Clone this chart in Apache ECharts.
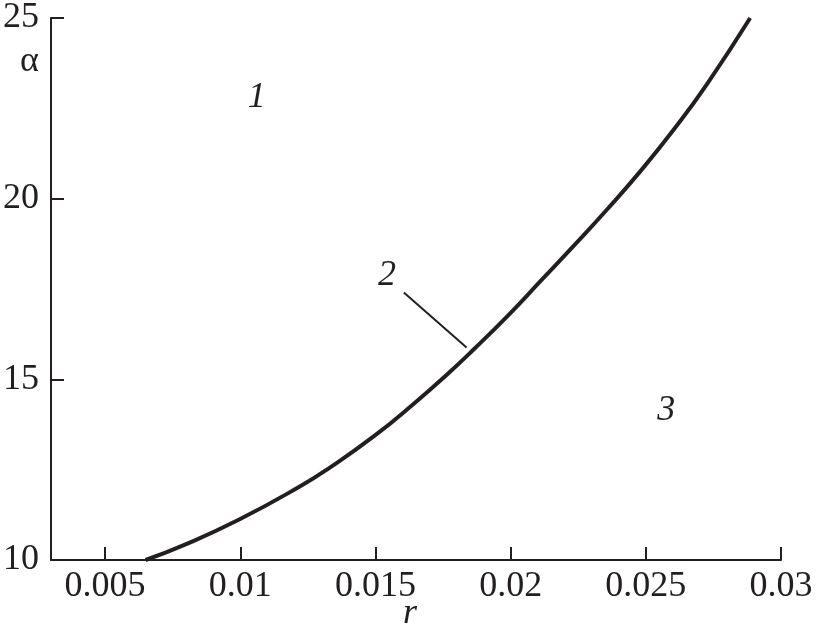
<!DOCTYPE html>
<html>
<head>
<meta charset="utf-8">
<script src="https://cdn.jsdelivr.net/npm/echarts@6/dist/echarts.min.js"></script>
<style>
  html, body { margin: 0; padding: 0; background: #fff; }
  #main { width: 821px; height: 636px; }
</style>
</head>
<body>
<div id="main"></div>
<script>
// boundary curve between regions 1 and 3
var rValues = [0.0065, 0.008, 0.00996, 0.01217, 0.0133, 0.01497, 0.01644, 0.0177, 0.01865, 0.01991, 0.02112, 0.02234, 0.02359, 0.02481, 0.02602, 0.02727, 0.02886]
var alphaValues = [10, 10.44, 11.12, 12.02, 12.55, 13.44, 14.34, 15.17, 15.84, 16.77, 17.73, 18.7, 19.72, 20.77, 21.9, 23.18, 25]

// tick labels of the r axis
var rTicks = [0.005, 0.01, 0.015, 0.02, 0.025, 0.03]
var rTickLabels = ['0.005', '0.01', '0.015', '0.02', '0.025', '0.03']

// region numbers and the leader line of label 2
var regionNames = ['1', '2', '3']
var regionR = [0.01061, 0.01543, 0.02576]
var regionAlpha = [22.79, 17.87, 14.14]
var leaderR = [0.01605, 0.01837]
var leaderAlpha = [17.4, 15.88]

var ink = '#231f20'
var serif = "'Liberation Serif', 'Times New Roman', serif"

var myChart = echarts.init(document.getElementById('main'))

var curve = rValues.map(function (r, i) { return [r, alphaValues[i]] })
var leader = leaderR.map(function (r, i) { return [r, leaderAlpha[i]] })
var regions = regionNames.map(function (n, i) { return { name: n, value: [regionR[i], regionAlpha[i]] } })

var option = {
  backgroundColor: '#fff',
  animation: false,
  grid: {
    left: 48,
    right: 40,
    top: 17,
    bottom: 76
  },
  xAxis: {
    type: 'value',
    min: 0.003,
    max: 0.03,
    axisLine: { lineStyle: { color: ink, width: 2 } },
    axisTick: {
      inside: true,
      length: 13,
      customValues: rTicks,
      lineStyle: { color: ink, width: 2 }
    },
    axisLabel: {
      customValues: rTicks,
      margin: 9,
      color: ink,
      fontFamily: serif,
      fontSize: 36,
      formatter: function (v) {
        var i = rTicks.findIndex(function (t) { return Math.abs(t - v) < 1e-9 })
        return i >= 0 ? rTickLabels[i] : ''
      }
    },
    splitLine: { show: false }
  },
  yAxis: {
    type: 'value',
    min: 10,
    max: 25,
    interval: 5,
    axisLine: { show: true, lineStyle: { color: ink, width: 2 } },
    axisTick: {
      show: true,
      inside: true,
      length: 13,
      lineStyle: { color: ink, width: 2 }
    },
    axisLabel: {
      margin: 12,
      color: ink,
      fontFamily: serif,
      fontSize: 36
    },
    splitLine: { show: false }
  },
  graphic: [
    {
      type: 'text',
      left: 20,
      top: 44,
      style: { text: 'α', fill: ink, font: "36px 'Liberation Serif', serif" }
    },
    {
      type: 'text',
      left: 403,
      top: 596,
      style: { text: 'r', fill: ink, font: "italic 36px 'Liberation Serif', serif" }
    }
  ],
  series: [
    {
      type: 'line',
      data: curve,
      smooth: 0.5,
      symbol: 'none',
      lineStyle: { color: ink, width: 4 },
      z: 3
    },
    {
      type: 'line',
      data: leader,
      symbol: 'none',
      lineStyle: { color: ink, width: 2 },
      z: 2
    },
    {
      type: 'scatter',
      data: regions,
      symbolSize: 1,
      itemStyle: { color: 'rgba(0,0,0,0)', opacity: 1 },
      label: {
        show: true,
        position: 'inside',
        formatter: '{b}',
        color: ink,
        fontFamily: serif,
        fontStyle: 'italic',
        fontSize: 36
      }
    }
  ]
}

myChart.setOption(option)
</script>
</body>
</html>
